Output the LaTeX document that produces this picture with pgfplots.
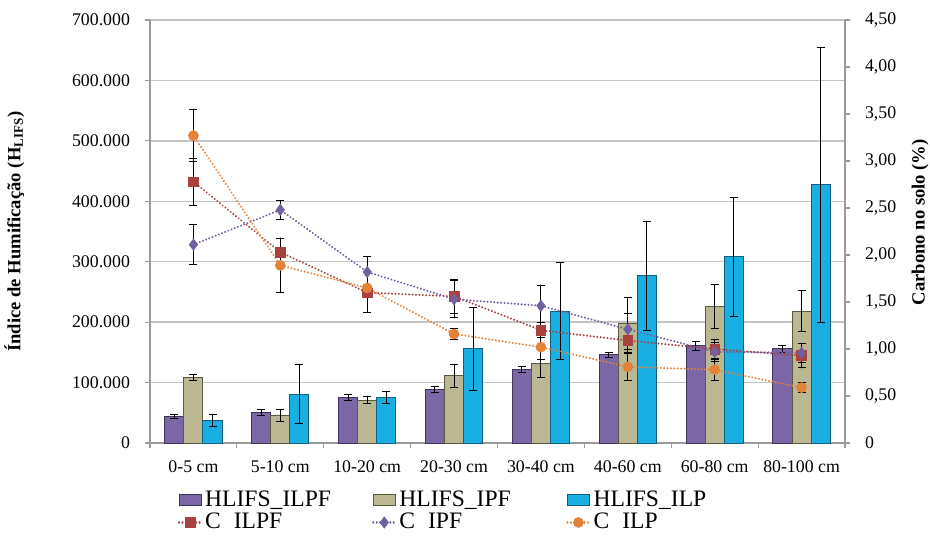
\documentclass[border=0pt]{standalone}
\usepackage{fontspec}
\setmainfont{Liberation Serif}
\usepackage{pgfplots}
\pgfplotsset{compat=1.18}
\usepackage{pgfplotstable}

\definecolor{cPurple}{HTML}{7B66A6}
\definecolor{cPurpleE}{HTML}{3E3358}
\definecolor{cOlive}{HTML}{BBB793}
\definecolor{cOliveE}{HTML}{5B5A3E}
\definecolor{cBlue}{HTML}{1AAFE3}
\definecolor{cBlueE}{HTML}{125E7E}
\definecolor{cRed}{HTML}{A8423F}
\definecolor{cVio}{HTML}{7160A0}
\definecolor{cOrg}{HTML}{E5823A}
\definecolor{cGrid}{HTML}{C4C4C4}
\definecolor{cAxis}{HTML}{9A9A9A}

\pgfplotstableread{
x v e
0 44000 3000
1 50000 5000
2 75000 4500
3 89000 5000
4 122000 5000
5 146000 4500
6 161000 7500
7 156000 6000
}\Hilpf
\pgfplotstableread{
x v e
0 109000 5000
1 46000 10000
2 71000 6000
3 111000 19000
4 132000 24000
5 198000 43000
6 226000 36000
7 218000 34000
}\Hipf
\pgfplotstableread{
x v e
0 38000 10000
1 81000 49000
2 76000 10000
3 156000 69000
4 218000 80000
5 277000 90000
6 308000 98000
7 427000 227000
}\Hilp
\pgfplotstableread{
x v e
0 2.78 0.25
1 2.03 0.15
2 1.60 0.21
3 1.56 0.18
4 1.20 0.08
5 1.09 0.13
6 1.00 0.10
7 0.93 0.13
}\Cilpf
\pgfplotstableread{
x v e
0 2.11 0.21
1 2.48 0.10
2 1.82 0.16
3 1.53 0.20
4 1.46 0.22
5 1.21 0.17
6 0.97 0.10
7 0.96 0.10
}\Cipf
\pgfplotstableread{
x v e
0 3.27 0.28
1 1.89 0.29
2 1.65 0.03
3 1.16 0.06
4 1.02 0.13
5 0.81 0.14
6 0.78 0.11
7 0.59 0.05
}\Cilp

\pgfplotsset{
  barleg/.style={legend image code/.code={\draw[##1] (0pt,-2.6pt) rectangle (11pt,2.6pt);}},
  lineleg/.style={legend image code/.code={\draw[##1, mark repeat=2, mark phase=2] plot coordinates {(0pt,0pt) (5.5pt,0pt) (11pt,0pt)};}},
  myerr/.style={error bars/.cd, y dir=both, y explicit,
     error bar style={black, line width=0.5pt, solid},
     error mark=-,
     error mark options={rotate=90, black, line width=0.5pt, mark size=2pt, solid}},
  dotline/.style={line width=1.1pt, line cap=round, dash pattern=on 0.01pt off 1.7pt},
}
\newcommand\lt[1]{\makebox[79pt][l]{#1}}

\begin{document}
\begin{tikzpicture}
\useasboundingbox (-75pt,-49.5pt) rectangle (390pt,221.5pt);
\begin{axis}[
  at={(0,0)}, anchor=south west,
  scale only axis, width=347.5pt, height=211.5pt,
  xmin=-0.5, xmax=7.5, ymin=0, ymax=700000,
  scaled y ticks=false,
  axis x line*=bottom, axis y line*=left,
  axis line style={cAxis, line width=0.6pt, -},
  xtick={-0.5,0.5,...,7.5}, xticklabels={},
  extra x ticks={0,1,2,3,4,5,6,7},
  extra x tick labels={0-5 cm,5-10 cm,10-20 cm,20-30 cm,30-40 cm,40-60 cm,60-80 cm,80-100 cm},
  extra x tick style={tick style={draw=none}},
  ytick={0,100000,200000,300000,400000,500000,600000,700000},
  yticklabels={0,100.000,200.000,300.000,400.000,500.000,600.000,700.000},
  tick align=outside, major tick length=2.5pt,
  tick style={cAxis, line width=0.6pt},
  ymajorgrids, grid style={cGrid, line width=0.7pt},
  ticklabel style={font=\fontsize{8.9}{10}\selectfont},
  xticklabel style={yshift=-3pt},
  yticklabel style={xshift=-4pt},
  ylabel={Índice de Humificação (H\textsubscript{LIFS})},
  every axis y label/.style={at={(axis description cs:-0.195,0.5)}, rotate=90, anchor=center,
     font=\bfseries\fontsize{9.3}{11}\selectfont},
  ybar, bar width=0.22,
]
\addplot[fill=cPurple, draw=cPurpleE, line width=0.5pt, bar shift=-0.22, myerr] table[x=x, y=v, y error=e]{\Hilpf};
\addplot[fill=cOlive, draw=cOliveE, line width=0.5pt, bar shift=0, myerr] table[x=x, y=v, y error=e]{\Hipf};
\addplot[fill=cBlue, draw=cBlueE, line width=0.5pt, bar shift=0.22, myerr] table[x=x, y=v, y error=e]{\Hilp};
\end{axis}
\begin{axis}[
  at={(0,0)}, anchor=south west,
  scale only axis, width=347.5pt, height=211.5pt,
  xmin=-0.5, xmax=7.5, ymin=0, ymax=4.5,
  axis x line=none, axis y line*=right,
  axis line style={cAxis, line width=0.6pt, -},
  ytick={0,0.5,1,1.5,2,2.5,3,3.5,4,4.5},
  yticklabels={0,{0,50},{1,00},{1,50},{2,00},{2,50},{3,00},{3,50},{4,00},{4,50}},
  tick align=outside, major tick length=2.5pt,
  tick style={cAxis, line width=0.6pt},
  ticklabel style={font=\fontsize{8.9}{10}\selectfont},
  yticklabel style={xshift=4pt},
  ylabel={Carbono no solo (\%)},
  every axis y label/.style={at={(axis description cs:1.108,0.522)}, rotate=90, anchor=center,
     font=\bfseries\fontsize{9.3}{11}\selectfont},
  legend columns=3,
  legend style={draw=none, fill=none, at={(axis description cs:0.031,-0.102)}, anchor=north west,
    font=\fontsize{11.8}{11.8}\selectfont, row sep=2pt,
    nodes={inner xsep=1.5pt, inner ysep=0pt},
    /tikz/every even column/.append style={column sep=3pt}},
  legend cell align=left,
]
\addlegendimage{barleg, fill=cPurple, draw=cPurpleE, line width=0.5pt}
\addlegendimage{barleg, fill=cOlive, draw=cOliveE, line width=0.5pt}
\addlegendimage{barleg, fill=cBlue, draw=cBlueE, line width=0.5pt}
\addplot[cRed, dotline, lineleg, mark=square*, mark size=2.4pt, mark options={solid, fill=cRed, draw=cRed, line width=0.3pt}, myerr] table[x=x, y=v, y error=e]{\Cilpf};
\addplot[cVio, dotline, lineleg, mark=diamond*, mark size=2.8pt, mark options={solid, fill=cVio, draw=cVio, line width=0.3pt}, myerr] table[x=x, y=v, y error=e]{\Cipf};
\addplot[cOrg, dotline, lineleg, mark=*, mark size=2.5pt, mark options={solid, fill=cOrg, draw=cOrg, line width=0.3pt}, myerr] table[x=x, y=v, y error=e]{\Cilp};
\legend{\lt{HLIFS\_ILPF},\lt{HLIFS\_IPF},\lt{HLIFS\_ILP},\lt{C\hspace{0.55em}ILPF},\lt{C\hspace{0.55em}IPF},\lt{C\hspace{0.55em}ILP}}
\end{axis}
\end{tikzpicture}
\end{document}
